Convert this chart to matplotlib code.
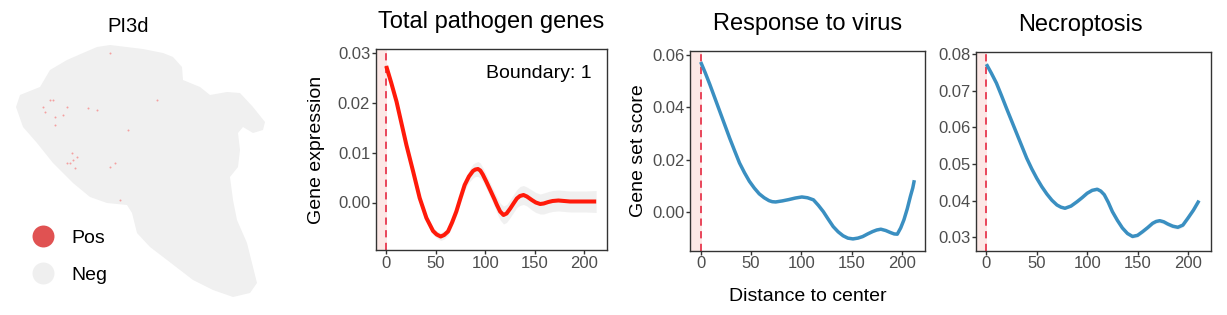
import matplotlib.pyplot as plt
from matplotlib.patches import Polygon
from matplotlib.lines import Line2D

plt.rcParams['font.family'] = ['Liberation Sans', 'DejaVu Sans']

# spatial map (image pixel coordinates of the tissue outline and positive spots)
tissue_x = [110, 143, 163, 173, 182, 183, 200, 210, 227, 240, 253, 265, 263, 253, 243, 238,
            240, 238, 230, 233, 237, 247, 253, 257, 250, 233, 213, 193, 167, 150, 137, 132,
            127, 107, 90, 73, 53, 37, 23, 16, 20, 40, 50, 67, 83, 97]
tissue_y = [45, 49, 53, 57, 67, 80, 87, 95, 92, 93, 107, 122, 130, 133, 127, 133,
            150, 167, 177, 200, 220, 243, 267, 283, 293, 297, 290, 280, 260, 247, 233, 213,
            205, 203, 197, 183, 163, 143, 127, 107, 95, 87, 70, 60, 53, 47]
pos_x = [45, 50, 53, 55, 63, 67, 55, 72, 70, 73, 77, 67, 110, 115, 97, 88, 157, 128, 120, 110, 43, 75]
pos_y = [112, 100, 100, 117, 115, 107, 125, 153, 163, 160, 157, 163, 167, 163, 110, 108, 100, 130, 200, 53, 107, 168]

# Total pathogen genes
x1 = [0, 5, 10.4, 15, 20.4, 27.2, 33.8, 40.6, 47.3, 51, 55, 58.5, 62.4, 66.5, 70.8, 75,
      79.2, 83.5, 87.6, 90, 92.6, 95, 97.5, 101, 105, 109.4, 111.8, 115, 118.4, 121.5,
      125.2, 128.5, 131.9, 135, 138.6, 142, 147, 151, 155.4, 159, 163.7, 168, 173.8,
      185.6, 200, 212]
y1 = [0.0273, 0.0240, 0.0202, 0.0162, 0.0115, 0.0062, 0.0009, -0.0031, -0.0057, -0.0064,
      -0.0068, -0.0065, -0.0058, -0.0040, -0.0018, 0.0009, 0.0035, 0.0052, 0.0063, 0.0066,
      0.0067, 0.0064, 0.0056, 0.0042, 0.0025, 0.0006, -0.0005, -0.0018, -0.0025, -0.0022,
      -0.0012, -0.0002, 0.0008, 0.0013, 0.0015, 0.0012, 0.0005, 0.0000, -0.0003, -0.0002,
      0.0001, 0.0003, 0.0004, 0.0002, 0.0002, 0.0002]
se1 = [0.0008, 0.0006, 0.0006, 0.0006, 0.0006, 0.0006, 0.0006, 0.0006, 0.0007, 0.0007,
       0.0008, 0.0008, 0.0008, 0.0008, 0.0009, 0.0010, 0.0011, 0.0012, 0.0014, 0.0014,
       0.0015, 0.0015, 0.0014, 0.0014, 0.0014, 0.0015, 0.0016, 0.0017, 0.0018, 0.0018,
       0.0018, 0.0018, 0.0018, 0.0019, 0.0019, 0.0019, 0.0020, 0.0020, 0.0020, 0.0021,
       0.0021, 0.0021, 0.0021, 0.0021, 0.0021, 0.0022]

# Response to virus
x2 = [0, 4.5, 9.1, 14, 18.9, 23.8, 28.7, 33.6, 38.5, 43.4, 48.3, 53.2, 58.1, 63, 67.8,
      71, 74.4, 81, 87.4, 94, 100.4, 106, 111.9, 116.8, 121.7, 126.6, 131.5, 136.4, 141.3,
      146, 151.1, 156, 160.8, 165.7, 170.6, 174.7, 178.8, 183.6, 188.5, 192, 195.1, 198.5,
      201.7, 205, 208.1, 210.5, 212]
y2 = [0.0573, 0.0532, 0.0487, 0.0436, 0.0385, 0.0334, 0.0283, 0.0235, 0.0188, 0.0151,
      0.0118, 0.0092, 0.0070, 0.0055, 0.0044, 0.0040, 0.0039, 0.0043, 0.0048, 0.0054,
      0.0058, 0.0055, 0.0047, 0.0026, 0.0002, -0.0027, -0.0055, -0.0075, -0.0090, -0.0099,
      -0.0102, -0.0099, -0.0093, -0.0083, -0.0074, -0.0068, -0.0065, -0.0070, -0.0078,
      -0.0083, -0.0084, -0.0060, -0.0029, 0.0013, 0.0060, 0.0093, 0.0122]
se2 = [0.0004] * len(x2)

# Necroptosis
x3 = [0, 5, 10, 15, 20, 25, 30, 35, 40, 45, 50, 55, 60, 65, 70, 74, 78, 84, 90, 95, 100,
      105, 110, 113.5, 117, 121, 125, 130, 135, 140, 145, 150, 155, 160, 165, 168.5, 172,
      176, 180, 185, 190, 195, 200, 205.5, 211]
y3 = [0.0773, 0.0748, 0.0721, 0.0687, 0.0652, 0.0618, 0.0584, 0.0550, 0.0516, 0.0487,
      0.0461, 0.0438, 0.0418, 0.0401, 0.0388, 0.0382, 0.0379, 0.0385, 0.0397, 0.0408,
      0.0420, 0.0428, 0.0431, 0.0426, 0.0416, 0.0395, 0.0370, 0.0346, 0.0325, 0.0310,
      0.0302, 0.0305, 0.0315, 0.0326, 0.0338, 0.0343, 0.0345, 0.0342, 0.0336, 0.0330,
      0.0327, 0.0333, 0.0352, 0.0374, 0.0400]
se3 = [0.0003] * 18 + [0.0004] * 6 + [0.0005] * 12 + [0.0006] * 9

boundary = 1
fig = plt.figure(figsize=(12.27, 3.15), dpi=100)

# left: spatial map
ax0 = fig.add_axes([0, 0, 290 / 1227, 1])
ax0.add_patch(Polygon(list(zip(tissue_x, tissue_y)), closed=True, color='#F0F0F0', lw=0))
ax0.scatter(pos_x, pos_y, s=2, color='#F4A0A0', lw=0)
ax0.set_xlim(0, 290)
ax0.set_ylim(315, 0)
ax0.axis('off')
ax0.text(128, 27, 'PI3d', ha='center', va='center', fontsize=14.5)
handles = [Line2D([], [], ls='', marker='o', ms=15.8, color='#E05252', mec='none'),
           Line2D([], [], ls='', marker='o', ms=15.8, color='#EFEFEF', mec='none')]
ax0.legend(handles, ['Pos', 'Neg'], loc='center left', bbox_to_anchor=(31 / 1227, 0.186),
           bbox_transform=fig.transFigure, frameon=False, fontsize=14, handlelength=1.2,
           handletextpad=0.9, labelspacing=1.0, borderpad=0, borderaxespad=0)

panels = [
    ([375.7, 606.7, 49, 250], x1, y1, se1, '#FF1A0A', 'Total pathogen genes', 'Gene expression',
     (-0.0095, 0.0307), [0, 0.01, 0.02, 0.03], 9, 0.5),
    ([690, 925, 50.7, 250.7], x2, y2, se2, '#3A8FC1', 'Response to virus', 'Gene set score',
     (-0.0147, 0.0616), [0, 0.02, 0.04, 0.06], 4, 0.5),
    ([975.7, 1210.7, 51.7, 250.7], x3, y3, se3, '#3A8FC1', 'Necroptosis', None,
     (0.0263, 0.0807), [0.03, 0.04, 0.05, 0.06, 0.07, 0.08], 4, 0.444),
]

for (l, r, t, b), x, y, se, col, title, ylab, ylim, yticks, lp, tx in panels:
    ax = fig.add_axes([l / 1227, (315 - b) / 315, (r - l) / 1227, (b - t) / 315])
    ax.axvspan(-10.6, boundary, color='#FCE8E6', lw=0, zorder=0)
    lo = [v - s for v, s in zip(y, se)]
    hi = [v + s for v, s in zip(y, se)]
    ax.fill_between(x, lo, hi, color='#EBEBEB', alpha=0.7, lw=0, zorder=1)
    ax.plot(x, y, color=col, lw=2.9 if col == '#FF1A0A' else 2.5, zorder=3,
            solid_capstyle='butt', solid_joinstyle='round')
    ax.axvline(0, color='#E8384F', lw=1.3, ls=(0, (4, 3)), zorder=2)
    ax.set_xlim(-10.6, 222.6)
    ax.set_ylim(*ylim)
    ax.set_xticks([0, 50, 100, 150, 200])
    ax.set_yticks(yticks)
    ax.set_yticklabels([f'{v:.2f}' for v in yticks])
    ax.tick_params(labelsize=12, labelcolor='#4D4D4D', color='#333333', length=3,
                   width=1, pad=1)
    for sp in ax.spines.values():
        sp.set_color('#333333')
        sp.set_linewidth(1.0)
    ax.set_title(title, fontsize=17, pad=15, x=tx)
    if ylab:
        ax.set_ylabel(ylab, fontsize=14, labelpad=lp)
    if title == 'Total pathogen genes':
        ax.text(0.936, 0.88, 'Boundary: 1', transform=ax.transAxes, ha='right',
                va='center', fontsize=14)
    if title == 'Response to virus':
        ax.set_xlabel('Distance to center', fontsize=14, labelpad=12)

fig.savefig('out.png', dpi=100)
